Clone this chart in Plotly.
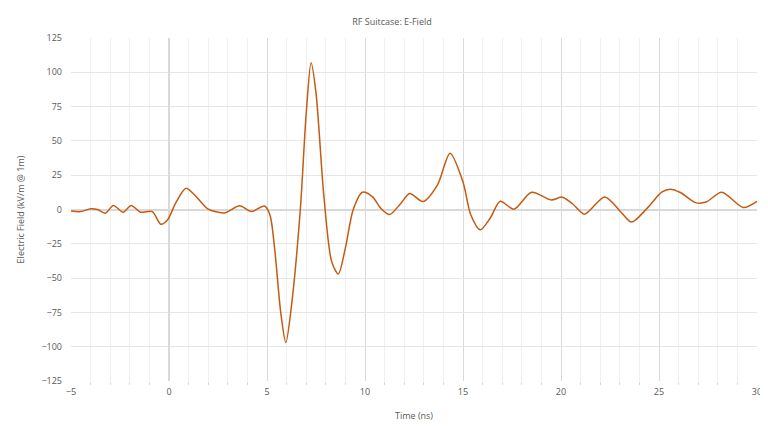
import plotly.graph_objects as go

time_ns = [-5.05,-4.5,-4.0,-3.65,-3.25,-2.84,-2.34,-1.93,-1.45,-0.85,-0.42,-0.07,0.35,0.87,1.38,1.98,2.82,3.6,4.2,4.87,5.15,5.4,5.7,5.96,6.25,6.7,7.0,7.25,7.5,7.9,8.3,8.64,9.0,9.4,9.87,10.4,10.8,11.25,11.8,12.28,12.96,13.7,14.34,15.0,15.4,15.88,16.4,16.9,17.6,18.5,19.5,20.07,20.6,21.2,22.23,23.1,23.6,24.4,25.14,25.57,26.09,26.86,27.4,28.2,29.3,30.0]
efield = [-1,-1.5,0.5,0,-2.7,3,-2,3,-2,-1.5,-10.7,-7.5,5,15.5,9.5,0.5,-2.5,2.7,-1.5,2.5,-4,-30,-75,-97,-70,0,70,107,85,10,-38,-47,-28,0,12.6,9,1,-3.7,4,11.7,5.8,18,41,20,-4,-14.8,-6,6,0.2,12.6,7,9,4,-3.4,9.2,-2.5,-9.2,1,12.6,14.8,12.4,5,5.4,12.6,1.5,6]

fig = go.Figure(go.Scatter(x=time_ns, y=efield, mode="lines",
    line=dict(color="#C55A11", width=1.5, shape="spline", smoothing=0.8)))
fig.update_layout(
    width=768, height=426, plot_bgcolor="white", paper_bgcolor="white",
    margin=dict(l=53, r=19, t=30, b=53), showlegend=False,
    font=dict(family="Open Sans", size=9, color="#595959"),
    title=dict(text="RF Suitcase: E-Field", x=0.5, y=0.975, xanchor="center",
               font=dict(size=9, color="#595959")),
)
fig.update_xaxes(range=[-5, 30], dtick=5, showgrid=True, gridcolor="#D9D9D9",
    minor=dict(dtick=1, showgrid=True, gridcolor="#F0F0F0", ticks="outside", ticklen=3, tickcolor="#D9D9D9"),
    zeroline=True, zerolinecolor="#D9D9D9", showline=False, ticklabelstandoff=4,
    title=dict(text="Time (ns)", font=dict(size=9)))
fig.update_yaxes(range=[-125, 125], dtick=25, showgrid=True, gridcolor="#E6E6E6",
    zeroline=True, zerolinecolor="#D9D9D9", ticklabelstandoff=8,
    title=dict(text="Electric Field (kV/m @ 1m)", font=dict(size=9)))
fig.write_html("out.html")
